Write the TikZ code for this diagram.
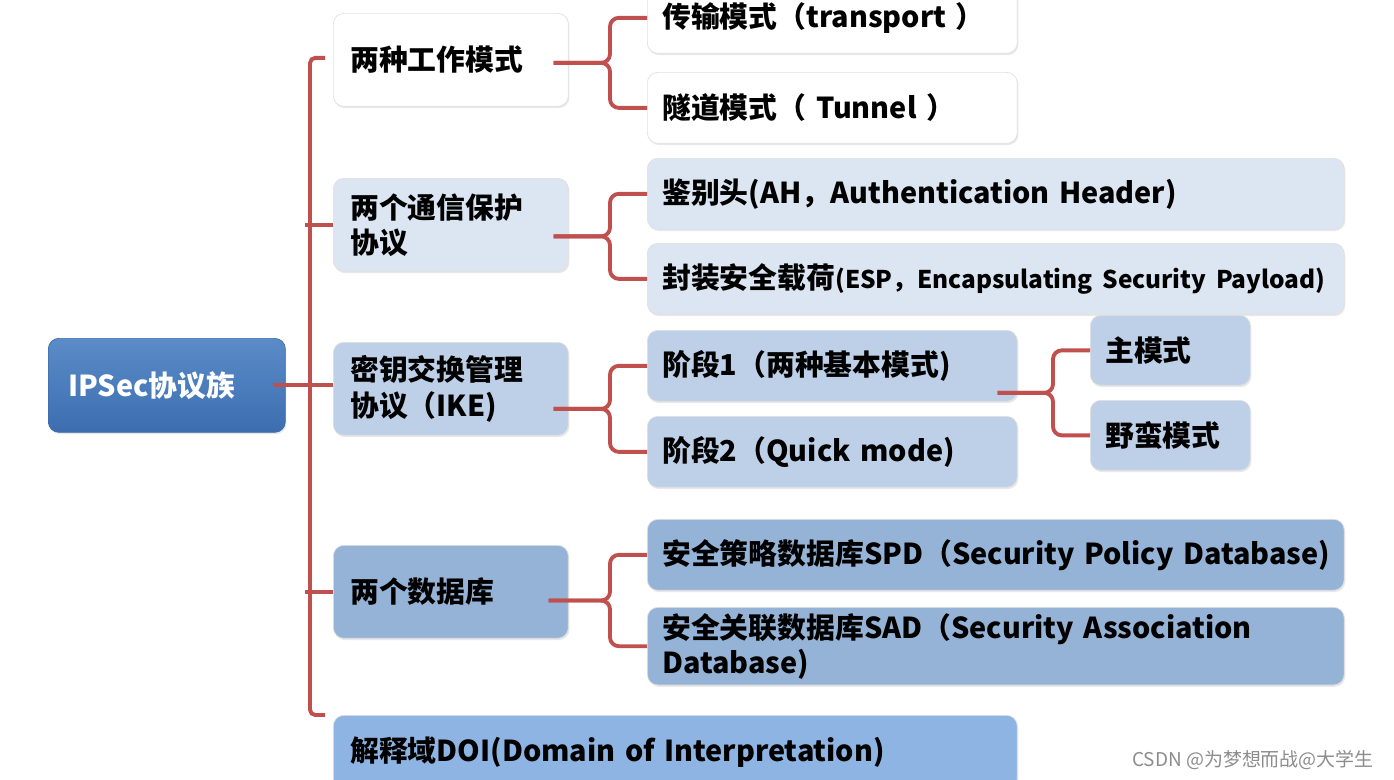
\documentclass[tikz,border=0pt]{standalone}
\usepackage{fontspec}
\setmainfont{Noto Sans CJK SC}
\usetikzlibrary{calc, positioning, shadows}
\definecolor{BranchRed}{HTML}{C0504D}
\definecolor{RootTop}{HTML}{5B8CC8}
\definecolor{RootBottom}{HTML}{3C6DAF}
\definecolor{PaleBlue}{HTML}{DCE6F2}
\definecolor{SoftBlue}{HTML}{BDD0E8}
\definecolor{MidBlue}{HTML}{95B3D7}
\definecolor{DoiBlue}{HTML}{8DB4E2}

\begin{document}
\begin{tikzpicture}[x=0.02cm, y=-0.02cm,
    box/.style={anchor=north west, rounded corners=6pt, draw=black!12, align=left,
        font=\bfseries\fontsize{16.4}{20}\selectfont,
        drop shadow={shadow xshift=0.6pt, shadow yshift=-1pt, opacity=0.18}},
    lvone/.style={box, inner xsep=0.34cm, text width=4.02cm, minimum height=1.86cm},
    narrow/.style={box, inner xsep=0.3cm, text width=6.8cm, minimum height=1.42cm},
    wide/.style={box, inner xsep=0.3cm, text width=13.34cm, minimum height=1.42cm},
    leafbox/.style={box, inner xsep=0.3cm, text width=2.6cm, minimum height=1.40cm},
    link/.style={BranchRed, line width=2.2pt, rounded corners=5pt}]
    \useasboundingbox (0,0) rectangle (1394,779);
    \clip (0,0) rectangle (1394,779);

    % Root
    \node[box, top color=RootTop, bottom color=RootBottom, draw=RootBottom, text=white,
        inner xsep=0.4cm, text width=3.94cm, minimum height=1.88cm] (ipsec) at (48,338) {IPSec协议族};

    % First level
    \node[lvone, fill=white] (modes) at (333,13) {两种工作模式};
    \node[lvone, fill=PaleBlue] (comm) at (333,178) {两个通信保护\\协议};
    \node[lvone, fill=SoftBlue] (ike) at (333,342) {密钥交换管理\\协议（IKE)};
    \node[lvone, fill=MidBlue] (db) at (333,545) {两个数据库};
    \node[box, fill=DoiBlue, inner xsep=0.34cm, text width=13.0cm, minimum height=1.48cm]
        (doi) at (333,715) {解释域DOI(Domain of Interpretation)};

    % Second level
    \node[narrow, fill=white] (trans) at (647,-18) {传输模式（transport ）};
    \node[narrow, fill=white] (tunnel) at (647,72) {隧道模式（ Tunnel ）};
    \node[wide, fill=PaleBlue] (ah) at (647,158) {鉴别头(AH，Authentication Header)};
    \node[wide, fill=PaleBlue] (esp) at (647,243)
        {\mbox{封装安全载荷{\fontsize{13.9}{18}\selectfont(ESP，Encapsulating Security Payload)}}};
    \node[narrow, fill=SoftBlue] (phase1) at (647,330) {阶段1（两种基本模式)};
    \node[narrow, fill=SoftBlue] (phase2) at (647,416) {阶段2（Quick mode)};
    \node[wide, fill=MidBlue] (spd) at (647,519) {\mbox{安全策略数据库SPD（Security Policy Database)}};
    \node[wide, fill=MidBlue] (sad) at (647,607) {安全关联数据库SAD（Security Association\\Database)};

    % Third level
    \node[leafbox, fill=SoftBlue] (mainm) at (1090,315) {主模式};
    \node[leafbox, fill=SoftBlue] (aggr) at (1090,400) {野蛮模式};

    % Trunk and branches
    \coordinate (trunkTop) at ($(modes.west)+(-8,-2)$);
    \coordinate (trunkBot) at ($(doi.north west)+(-8,0)$);
    \draw[link, rounded corners=3pt] (trunkTop) -- ++(-15,0) |- (trunkBot);
    \draw[link] ($(ipsec.east)+(-13,0)$) -- (ipsec.east -| ike.west);
    \draw[link] (comm.west) -- ++(-28,0);
    \draw[link] (db.west) -- ++(-28,0);

    % Braces
    \coordinate (modeFork) at ($(trans.west)!0.5!(tunnel.west)+(-37,0)$);
    \draw[link] ($(modeFork -| modes.east)+(-15,0)$) -- (modeFork) |- (trans.west);
    \draw[link] ($(modeFork -| modes.east)+(-15,0)$) -- (modeFork) |- (tunnel.west);

    \coordinate (commFork) at ($(ah.west)!0.5!(esp.west)+(-37,0)$);
    \draw[link] ($(commFork -| comm.east)+(-15,0)$) -- (commFork) |- (ah.west);
    \draw[link] ($(commFork -| comm.east)+(-15,0)$) -- (commFork) |- (esp.west);

    \coordinate (ikeFork) at ($(phase1.west)!0.5!(phase2.west)+(-37,0)$);
    \draw[link] ($(ikeFork -| ike.east)+(-15,0)$) -- (ikeFork) |- (phase1.west);
    \draw[link] ($(ikeFork -| ike.east)+(-15,0)$) -- (ikeFork) |- (phase2.west);

    \coordinate (phaseFork) at ($(mainm.west)!0.5!(aggr.west)+(-37,0)$);
    \draw[link] ($(phaseFork -| phase1.east)+(-20,0)$) -- (phaseFork) |- (mainm.west);
    \draw[link] ($(phaseFork -| phase1.east)+(-20,0)$) -- (phaseFork) |- (aggr.west);

    \coordinate (dbFork) at ($(spd.west)!0.5!(sad.west)+(-37,0)$);
    \draw[link] ($(dbFork -| db.east)+(-20,0)$) -- (dbFork) |- (spd.west);
    \draw[link] ($(dbFork -| db.east)+(-20,0)$) -- (dbFork) |- (sad.west);

    % Watermark
    \node[anchor=east, text=black!45, font=\fontsize{10.8}{12}\selectfont] (mark) at (1380,760)
        {CSDN @为梦想而战@大学生};
\end{tikzpicture}
\end{document}
